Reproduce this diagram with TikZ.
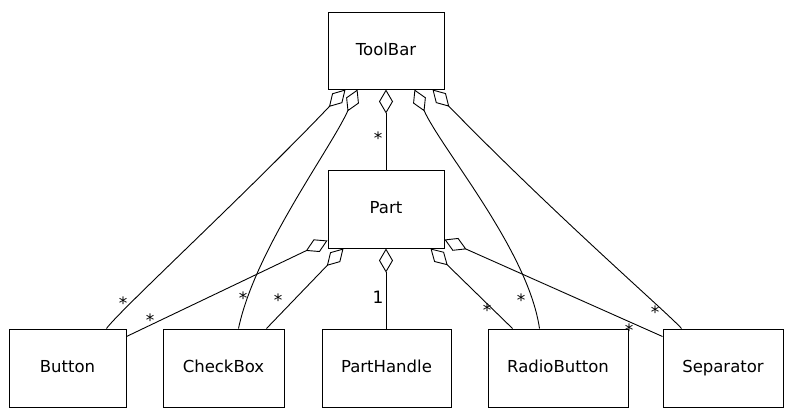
\documentclass[tikz,border=0pt]{standalone}
\usepackage{fontspec}
\setmainfont{DejaVu Sans}
\usetikzlibrary{arrows.meta,calc}
\begin{document}
\begin{tikzpicture}[x=1pt,y=-1pt,
  cls/.style={draw,line width=1pt,rectangle,inner sep=0pt,font=\fontsize{16.5}{19}\selectfont,minimum height=78pt,text height=12pt,text depth=3pt},
  agg/.style={line width=0.9pt,-{Diamond[open,length=24pt,width=14pt,line width=0.9pt]}},
  mult/.style={font=\fontsize{17}{19}\selectfont,inner sep=0pt}]
\useasboundingbox (0,0) rectangle (785,408);
\node[cls,minimum width=116pt,minimum height=77pt] (tb) at (386,50.5) {ToolBar};
\node[cls,minimum width=116pt] (part) at (386,209) {Part};
\node[cls,minimum width=117pt] (button) at (67.5,368) {Button};
\node[cls,minimum width=121pt] (cb) at (223.5,368) {CheckBox};
\node[cls,minimum width=129pt] (ph) at (386.5,368) {PartHandle};
\node[cls,minimum width=140pt] (rb) at (558,368) {RadioButton};
\node[cls,minimum width=120pt] (sep) at (723,368) {Separator};
% Part - ToolBar
\draw[agg] (part.north) -- (tb.south);
\node[mult] (m1) at (378,138) {*};
% PartHandle - Part
\draw[agg] (ph.north -| part.south) -- (part.south);
\node[mult] (m2) at (378,297) {1};
% Button - ToolBar
\draw[agg] ($(button.north west)+(98,0)$) .. controls (118,312) and (250,190) .. ($(tb.south west)+(18,0)$);
\node[mult] (m3) at (123,303) {*};
% CheckBox - ToolBar
\draw[agg] ($(cb.north west)+(76,0)$) .. controls (255,250) and (330,150) .. ($(tb.south west)+(30,0)$);
\node[mult] (m4) at (243,298) {*};
% Button - Part
\draw[agg] ($(button.north east)+(0,8)$) -- ($(part.south west)+(0,-8)$);
\node[mult] (m5) at (150,320) {*};
% CheckBox - Part
\draw[agg] ($(cb.north west)+(104,0)$) -- ($(part.south west)+(16,0)$);
\node[mult] (m6) at (278,300) {*};
% RadioButton - Part
\draw[agg] ($(rb.north west)+(25,0)$) -- ($(part.south east)+(-14,0)$);
\node[mult] (m7) at (487,310) {*};
% Separator - Part
\draw[agg] ($(sep.north west)+(0,8)$) -- ($(part.south east)+(0,-9)$);
\node[mult] (m8) at (629,330) {*};
% RadioButton - ToolBar
\draw[agg] ($(rb.north west)+(52,0)$) .. controls (528,250) and (442,150) .. ($(tb.south east)+(-30,0)$);
\node[mult] (m9) at (521,300) {*};
% Separator - ToolBar
\draw[agg] ($(sep.north west)+(19,0)$) .. controls (670,315) and (560,220) .. ($(tb.south east)+(-12,0)$);
\node[mult] (m10) at (655,312) {*};
\end{tikzpicture}
\end{document}
